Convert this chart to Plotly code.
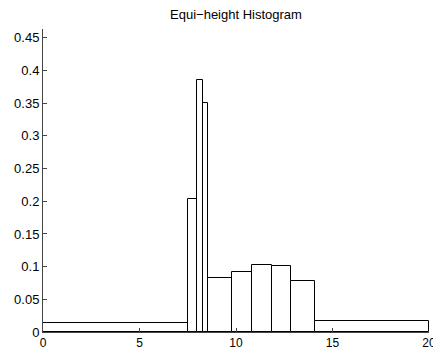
import plotly.graph_objects as go

edges = [0, 7.52, 8.0, 8.29, 8.57, 9.77, 10.85, 11.84, 12.83, 14.10, 20]
heights = [0.0133, 0.203, 0.386, 0.350, 0.0827, 0.0914, 0.102, 0.1006, 0.0776, 0.0164]
xticks = [0, 5, 10, 15, 20]
yticks = [0, 0.05, 0.1, 0.15, 0.2, 0.25, 0.3, 0.35, 0.4, 0.45]
ytick_labels = ["0", "0.05", "0.1", "0.15", "0.2", "0.25", "0.3", "0.35", "0.4", "0.45"]

centers = [(a + b) / 2 for a, b in zip(edges[:-1], edges[1:])]
widths = [b - a for a, b in zip(edges[:-1], edges[1:])]

fig = go.Figure(go.Bar(
    x=centers, y=heights, width=widths,
    marker=dict(color="white", line=dict(color="black", width=1)),
))

font = dict(family="Liberation Sans, Arial, sans-serif", size=13, color="black")
fig.update_layout(
    width=433, height=349,
    margin=dict(l=43, r=4, t=29, b=17, autoexpand=False),
    paper_bgcolor="white", plot_bgcolor="white",
    showlegend=False,
    font=font,
    title=dict(text="Equi\u2212height Histogram", x=0.5, xref="paper", xanchor="center",
               y=1 - 14 / 349, yanchor="middle", yref="container", font=font,
               automargin=False),
    bargap=0,
)
fig.update_xaxes(range=[0, 20], tickvals=xticks, ticks="inside", ticklen=4,
                 showline=True, linecolor="#444", linewidth=1, showgrid=False,
                 zeroline=False, tickcolor="#444", ticklabeloverflow="allow",
                 automargin=False, ticklabelstandoff=0,
                 tickfont=dict(family="Liberation Sans, Arial, sans-serif", size=12, color="black"))
fig.update_yaxes(range=[0, 0.4635], tickvals=yticks, ticktext=ytick_labels,
                 ticks="inside", ticklen=4, showline=True, linecolor="#444",
                 linewidth=1, showgrid=False, zeroline=False, tickcolor="#444",
                 ticklabelstandoff=0, automargin=False)

fig.write_html("out.html")
